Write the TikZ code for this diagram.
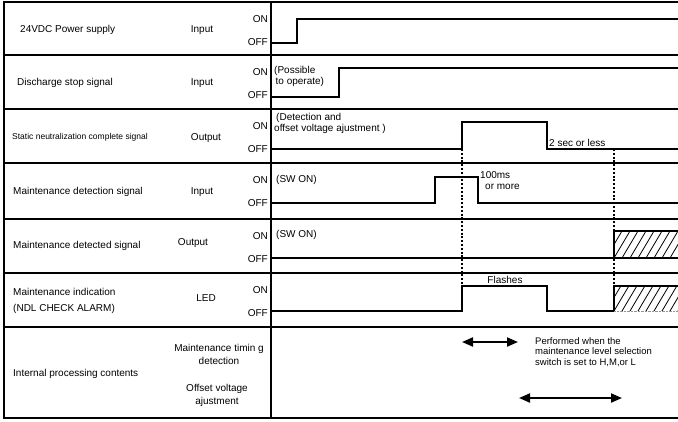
\documentclass[tikz,border=0pt]{standalone}
\usepackage{fontspec}
\setmainfont{Liberation Sans}
\usetikzlibrary{arrows.meta, positioning}
\definecolor{cInk}{RGB}{0,0,0}
\definecolor{cFaint}{RGB}{150,150,150}
\tikzset{
    rule/.style    ={draw=cInk, line width=2pt},
    wave/.style    ={draw=cInk, line width=2pt, line join=miter},
    guide/.style   ={draw=cInk, line width=2pt, dash pattern=on 2pt off 1.8pt},
    hatchline/.style={draw=cInk, line width=0.8pt},
    span/.style    ={{Triangle[length=11pt, width=9pt]}-{Triangle[length=11pt, width=9pt]}, line width=2pt, draw=cInk},
    rowname/.style ={anchor=west, align=left, inner sep=0pt, font=\fontsize{10}{15.5}\selectfont},
    iotype/.style  ={align=center, inner sep=0pt, font=\fontsize{10}{13}\selectfont},
    level/.style   ={anchor=east, inner sep=0pt, font=\fontsize{10}{12}\selectfont},
    note/.style    ={anchor=west, align=left, inner sep=0pt, font=\fontsize{10}{11}\selectfont},
}
\begin{document}
\begin{tikzpicture}[x=1pt, y=-1pt]
    \useasboundingbox (0,0) rectangle (678,421);
    % table
    \draw[rule] (678,2) -| (4,418) -- (678,418);
    \draw[rule, line width=2.6pt] (271,2) -- (271,418);
    \foreach \y in {55,109,163,219,273,327}
        \draw[rule] (4,\y) -- (678,\y);
    \foreach \t [count=\i] in {2,55,109,163,219,273} {
        \node[level] (on\i)  at (268,\t+17) {ON};
        \node[level] (off\i) at (268,\t+40) {OFF};
    }

    \node[rowname] (psu)  at (20,30)  {24VDC Power supply};
    \node[rowname] (dss)  at (17,83)  {Discharge stop signal};
    \node[rowname, font=\fontsize{8.5}{10}\selectfont] (snc) at (12,137) {Static neutralization complete signal};
    \node[rowname] (mds)  at (13,192) {Maintenance detection signal};
    \node[rowname] (mdd)  at (13,246) {Maintenance detected signal};
    \node[rowname] (mind) at (13,301) {Maintenance indication\\(NDL CHECK ALARM)};
    \node[rowname] (ipc)  at (13,374) {Internal processing contents};

    \node[iotype] (psuIO) at (202,30)  {Input};
    \node[iotype] (dssIO) at (202,83)  {Input};
    \node[iotype] (sncIO) at (206,138) {Output};
    \node[iotype] (mdsIO) at (202,192) {Input};
    \node[iotype] (mddIO) at (193,243) {Output};
    \node[iotype] (mindIO) at (206,298) {LED};
    \node[iotype] (mtd)   at (219,354) {Maintenance timin g\\detection};
    \node[iotype] (ova)   at (217,395) {Offset voltage\\ajustment};

    % timing
    \draw[wave] (271,43) -- (297,43) |- (678,19);
    \draw[wave] (271,97) -- (339,97) |- (678,68);
    \draw[wave] (271,149) -- (462,149) |- (547,122) |- (678,149);
    \draw[wave] (271,203) -- (435,203) |- (478,177) |- (678,203);
    \draw[wave] (271,258) -- (678,258);
    \draw[wave] (271,311) -- (462,311) |- (547,286) |- (614,311);

    \draw[guide] (462,149) -- (462,286);
    \draw[guide] (614,149) -- (614,311);

    \foreach \top/\bot in {231/258, 286/311} {
        \begin{scope}
            \clip (614,\top) rectangle (678,\bot);
            \foreach \x in {598,606,...,686}
                \draw[hatchline] (\x,\bot) -- ++(16,-27);
        \end{scope}
        \draw[wave] (614,\bot) |- (678,\top);
    }
    \draw[cFaint, densely dotted, thin] (614,311) -- (678,311);

    \node[note] (possible) at (274,76)  {(Possible\\\hspace*{1.5pt}to operate)};
    \node[note] (detect)   at (274,123) {\hspace*{2pt}(Detection and\\offset voltage ajustment )};
    \node[note] (swon1)    at (276,180) {(SW ON)};
    \node[note] (swon2)    at (276,235) {(SW ON)};
    \node[note] (twosec)   at (549,143) {2 sec or less};
    \node[note] (hundred)  at (480,181) {100ms\\\hspace*{5pt}or more};
    \node[note, anchor=center] (flash) at (505,280) {Flashes};
    \node[note, anchor=north west, font=\fontsize{9.5}{10.5}\selectfont] (perf) at (535,337)
        {Performed when the\\maintenance level selection\\switch is set to H,M,or L};

    \coordinate (mtS) at (462,342);
    \coordinate (mtE) at (518,342);
    \coordinate (ovS) at (519,398);
    \coordinate (ovE) at (622,398);
    \draw[span] (mtS) -- (mtE);
    \draw[span] (ovS) -- (ovE);
\end{tikzpicture}
\end{document}
